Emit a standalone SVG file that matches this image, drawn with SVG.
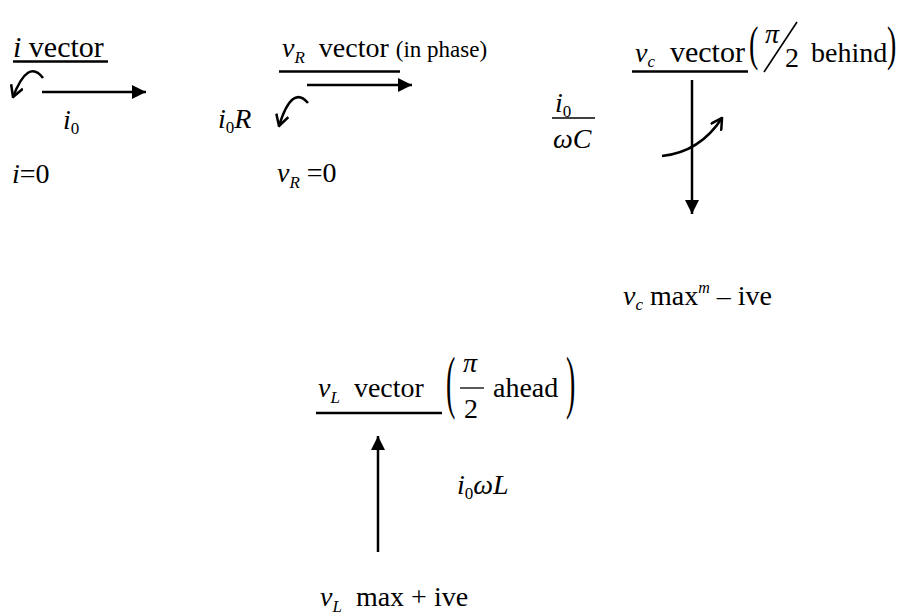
<svg xmlns="http://www.w3.org/2000/svg" width="905" height="615" viewBox="0 0 905 615" font-family="'Liberation Serif','Times New Roman',serif">
<defs>
<marker id="tri" viewBox="0 0 10 10" refX="10" refY="5" markerWidth="14" markerHeight="14" markerUnits="userSpaceOnUse" orient="auto">
<path d="M0,0 L10,5 L0,10 z" fill="#000"/>
</marker>
<marker id="vee" viewBox="0 0 10 10" refX="9" refY="5" markerWidth="14" markerHeight="14" markerUnits="userSpaceOnUse" orient="auto">
<path d="M1,0.5 L9,5 L1,9.5" fill="none" stroke="#000" stroke-width="1.8"/>
</marker>
</defs>
<style>
text{font-family:"Liberation Serif","Times New Roman",serif;fill:#000;font-size:28px}
.it{font-style:italic}
.sub{font-size:17px}
.cam{font-size:30px}
.ln{stroke:#000;stroke-width:2.5;fill:none}
.ar{stroke:#000;stroke-width:2.5;fill:none;marker-end:url(#tri)}
.cv{stroke:#000;stroke-width:2.5;fill:none;marker-end:url(#vee)}
</style>

<g id="i-vector">
<text class="cam" x="13" y="57"><tspan class="it">i</tspan> vector</text>
<line class="ln" x1="13" y1="61.5" x2="108" y2="61.5"/>
<text x="63" y="129"><tspan class="it">i</tspan><tspan class="sub" dy="5">0</tspan></text>
<text x="12" y="183" font-size="28"><tspan class="it">i</tspan>=0</text>
</g>

<g id="vR-vector">
<text x="282" y="57"><tspan class="it">v</tspan><tspan class="sub it" dy="6">R</tspan><tspan dy="-6" xml:space="preserve">  vector </tspan><tspan font-size="23">(in phase)</tspan></text>
<line class="ln" x1="279" y1="71.5" x2="400" y2="71.5"/>
<text x="218" y="128" font-size="29"><tspan class="it">i</tspan><tspan class="sub" dy="5">0</tspan><tspan class="it" dy="-5">R</tspan></text>
<text x="277" y="182"><tspan class="it">v</tspan><tspan class="sub it" dy="6">R</tspan><tspan dy="-6"> =0</tspan></text>
</g>

<g id="vc-vector">
<text x="635" y="62"><tspan class="it">v</tspan><tspan class="sub it" dy="5">c</tspan><tspan dy="-5" xml:space="preserve" font-size="30">  vector</tspan></text>
<line class="ln" x1="632" y1="71.5" x2="748" y2="71.5"/>
<text transform="translate(749,60) scale(1,1.75)" font-size="32">(</text>
<text class="it" x="765" y="43" font-size="25">π</text>
<line x1="764" y1="72" x2="797" y2="22" stroke="#000" stroke-width="1.6"/>
<text x="785" y="67" font-size="31">2</text>
<text x="811" y="62" font-size="26.5">behind</text>
<text transform="translate(887,60) scale(1,1.75)" font-size="32">)</text>
<text class="it" x="555" y="112">i<tspan class="sub" dy="5" font-style="normal">0</tspan></text>
<line x1="552" y1="118" x2="595" y2="118" stroke="#000" stroke-width="1.3"/>
<text class="it" x="553" y="148">ωC</text>
<text x="623" y="305" font-size="29"><tspan class="it">v</tspan><tspan class="sub it" dy="5">c</tspan><tspan dy="-5"> max</tspan><tspan class="it" font-size="16" dy="-12">m</tspan><tspan dy="12"> – ive</tspan></text>
</g>

<g id="vL-vector">
<text x="318" y="397" font-size="30"><tspan class="it">v</tspan><tspan class="sub it" dy="6">L</tspan><tspan dy="-6" xml:space="preserve">  vector</tspan></text>
<line class="ln" x1="316" y1="413" x2="442" y2="413"/>
<text transform="translate(446,405) scale(1,2.5)" font-size="32">(</text>
<text class="it" x="463" y="372" font-size="29">π</text>
<line x1="460" y1="388" x2="484" y2="388" stroke="#000" stroke-width="1.3"/>
<text x="464" y="418" font-size="30">2</text>
<text x="493" y="397" font-size="30">ahead</text>
<text transform="translate(566,405) scale(1,2.5)" font-size="32">)</text>
<text x="457" y="494"><tspan class="it">i</tspan><tspan class="sub" dy="5">0</tspan><tspan class="it" dy="-5">ωL</tspan></text>
<text x="320" y="606" font-size="30"><tspan class="it">v</tspan><tspan class="sub it" dy="6">L</tspan><tspan dy="-6" xml:space="preserve">  max + ive</tspan></text>
</g>

<g id="connectors">
<line class="ar" x1="42" y1="92" x2="146" y2="92"/>
<path class="cv" d="M43,78 Q28,58 13,97"/>
<line class="ar" x1="307" y1="85" x2="412" y2="85"/>
<path class="cv" d="M308,103 Q292,84 279,126"/>
<line class="ar" x1="692" y1="80" x2="692" y2="214"/>
<path class="cv" d="M662,156 Q700,152 722,118"/>
<line class="ar" x1="378" y1="552" x2="378" y2="436"/>
</g>
</svg>
